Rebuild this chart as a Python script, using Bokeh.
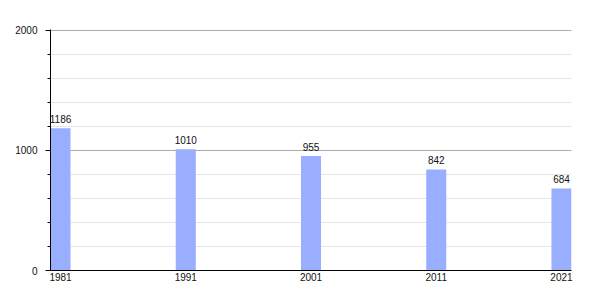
from bokeh.plotting import figure
from bokeh.models import FixedTicker, Range1d, ColumnDataSource
from bokeh.core.properties import value
from bokeh.embed import file_html
from bokeh.resources import INLINE

years = [1981, 1991, 2001, 2011, 2021]
population = [1186, 1010, 955, 842, 684]
labels = [str(v) for v in population]
y_ticks = [0, 1000, 2000]

src = ColumnDataSource(dict(x=years, top=population, label=labels))

p = figure(width=600, height=300, output_backend="svg", toolbar_location=None,
           x_range=Range1d(1980.2, 2021.8), y_range=Range1d(0, 2008.33),
           min_border_left=50, min_border_right=29, min_border_top=29, min_border_bottom=30)
p.outline_line_color = None
p.background_fill_color = "white"
p.border_fill_color = "white"

p.vbar(x="x", top="top", bottom=0, width=1.6, source=src,
       fill_color="#9aaeff", line_color=None)
p.text(x="x", y="top", text="label", source=src, text_align="center",
       text_baseline="bottom", y_offset=-5, text_font=value("Liberation Sans"),
       text_font_size="10px", text_color="#111111")

p.xaxis.ticker = FixedTicker(ticks=years)
p.xaxis.major_tick_line_color = None
p.xaxis.minor_tick_line_color = None
p.xaxis.major_tick_out = 0
p.xaxis.major_tick_in = 0
p.xaxis.minor_tick_out = 0
p.xaxis.minor_tick_in = 0
p.xaxis.axis_line_color = "black"
p.xaxis.axis_line_width = 1
p.xaxis.major_label_standoff = 2
p.xaxis.major_label_text_font = "Liberation Sans"
p.xaxis.major_label_text_font_size = "10px"
p.xaxis.major_label_text_color = "#111111"

p.yaxis.ticker = FixedTicker(ticks=y_ticks, minor_ticks=list(range(0, 2001, 200)))
p.yaxis.axis_line_color = "black"
p.yaxis.major_tick_out = 5
p.yaxis.major_tick_in = 0
p.yaxis.minor_tick_out = 3
p.yaxis.minor_tick_in = 0
p.yaxis.major_label_standoff = 8
p.yaxis.major_label_text_font = "Liberation Sans"
p.yaxis.major_label_text_font_size = "10px"
p.yaxis.major_label_text_color = "#111111"

p.xgrid.grid_line_color = None
p.ygrid.ticker = FixedTicker(ticks=[1000, 2000], minor_ticks=list(range(200, 2001, 200)))
p.ygrid.grid_line_color = "#aaaaaa"
p.ygrid.minor_grid_line_color = "#e6e6e6"

open("out.html", "w").write(file_html(p, INLINE))
